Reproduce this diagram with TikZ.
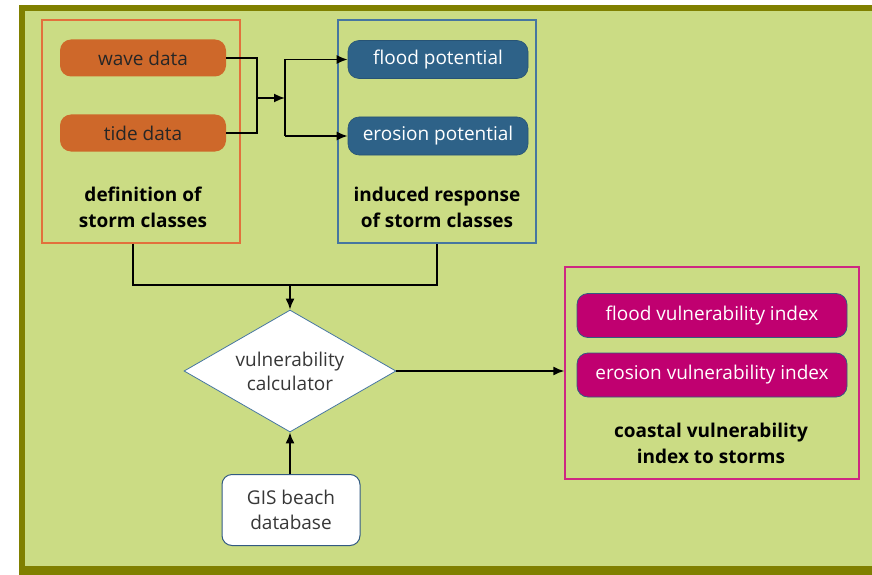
\documentclass[tikz,border=0pt]{standalone}
\usepackage{fontspec}
\setmainfont{Open Sans}
\usetikzlibrary{shapes.geometric,arrows.meta}
\definecolor{bg}{RGB}{203,220,132}
\definecolor{olivebd}{RGB}{128,128,0}
\definecolor{orline}{RGB}{226,112,60}
\definecolor{orfill}{RGB}{206,104,42}
\definecolor{blline}{RGB}{70,118,160}
\definecolor{blfill}{RGB}{46,98,136}
\definecolor{mgline}{RGB}{206,40,130}
\definecolor{mgfill}{RGB}{192,0,112}
\definecolor{dkblue}{RGB}{50,90,130}
\definecolor{txtgrey}{RGB}{55,55,55}
\begin{document}
\begin{tikzpicture}[x=1pt,y=-1pt,
  pill/.style={rounded corners=11pt, inner sep=0pt, font=\fontsize{19}{22}\selectfont},
  orpill/.style={pill, fill=orfill, text=black!85, minimum width=166pt, minimum height=37pt},
  blpill/.style={pill, fill=blfill, draw=blfill!85!black, line width=0.6pt, text=white, minimum width=180pt, minimum height=38pt},
  mgpill/.style={pill, fill=mgfill, draw=dkblue, line width=0.8pt, text=white, minimum width=270pt, minimum height=44pt},
  grp/.style={draw, line width=1.3pt, inner sep=0pt},
  captxt/.style={align=center, font=\fontsize{19}{26}\selectfont\bfseries},
  ln/.style={line width=1.7pt},
  arr/.style={ln, -{Latex[length=11pt,width=9pt]}}
]
\useasboundingbox (0,0) rectangle (872,575);
\fill[white] (0,0) rectangle (872,575);
\fill[olivebd] (19,5) rectangle (880,580);
\fill[bg] (25,11) rectangle (880,566);

% group boxes
\node[grp, draw=orline, minimum width=198pt, minimum height=223pt] (defbox) at (141,131.5) {};
\node[grp, draw=blline, minimum width=198pt, minimum height=223pt] (resbox) at (437,131.5) {};
\node[grp, draw=mgline, minimum width=294pt, minimum height=212pt] (magbox) at (712,373) {};

% pills
\node[orpill] (wave) at (143,58) {wave data};
\node[orpill] (tide) at (143,133) {tide data};
\node[blpill] (flood) at (438,59.5) {flood potential};
\node[blpill] (erosion) at (438,136) {erosion potential};
\node[mgpill] (fvi) at (712,315.5) {flood vulnerability index};
\node[mgpill] (evi) at (712,375) {erosion vulnerability index};

% captions
\node[captxt] (defcap) at (143,207) {definition of\\storm classes};
\node[captxt] (rescap) at (437,207) {induced response\\of storm classes};
\node[captxt] (magcap) at (711,443) {coastal vulnerability\\index to storms};

% diamond and database
\node[shape=diamond, draw=blline, fill=white, line width=0.8pt, inner sep=0pt,
      minimum width=212pt, minimum height=122pt] (diam) at (290,371) {};
\node[align=center, text=txtgrey, inner sep=0pt,
      font=\fontsize{19}{24}\selectfont] (diamtxt) at (diam.center) {vulnerability\\calculator};
\node[draw=dkblue, fill=white, line width=1pt, rounded corners=10pt, minimum width=138pt,
      minimum height=71pt, align=center, text=txtgrey, inner sep=0pt,
      font=\fontsize{19}{25}\selectfont] (gis) at (291,510) {GIS beach\\database};

% connectors
\coordinate (j1) at (257,98);
\coordinate (j2) at (285,98);
\draw[ln] (wave.east) -| (j1) |- (tide.east);
\draw[arr] (j1) -- (j2);
\draw[ln] (j2 |- flood.west) -- (j2 |- erosion.west);
\draw[arr] (j2 |- flood.west) -- (flood.west);
\draw[arr] (j2 |- erosion.west) -- (erosion.west);

\coordinate (b1) at (133,285);
\coordinate (b2) at (437,285);
\draw[ln] (b1 |- defbox.south) -- (b1) -- (b2) -- (b2 |- resbox.south);
\draw[arr] (diam.north |- b1) -- (diam.north);
\draw[arr] (diam.south |- gis.north) -- (diam.south);
\draw[arr] (diam.east) -- (diam.east -| magbox.west);
\end{tikzpicture}
\end{document}
